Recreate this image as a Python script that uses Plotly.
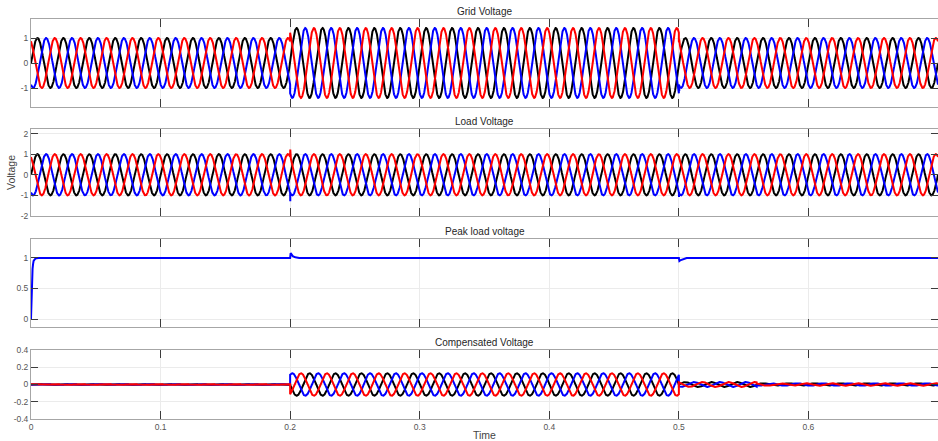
import numpy as np
import plotly.graph_objects as go

# ---------------- data ----------------
FREQ_HZ = 50.0
T_END = 0.7
DT = 0.0001

# three phases: colour and phase angle (degrees)
phase_colors = ["#000000", "#0000FF", "#FF0000"]
phase_angles = [0, -120, 120]

# Grid voltage: sag/swell segments (segment edges in s, peak amplitude per segment)
grid_edges = [0.0, 0.2, 0.5, 0.7]
grid_amps = [1.0, 1.4, 1.0]

# Load voltage: held at 1 pu by the compensator
load_edges = [0.0, 0.2, 0.5, 0.7]
load_amps = [1.0, 1.0, 1.0]
# short transients on the load voltage (time, value per phase: black, blue, red)
load_spike_t = [0.2001, 0.5001]
load_spike_v = [[0.05, -1.28, 1.22], [0.0, -1.08, 0.92]]

# Grid voltage glitch at 0.5 s
grid_spike_t = [0.5003]
grid_spike_v = [[0.05, -1.12, 0.95]]

# Compensated (injected) voltage
comp_edges = [0.0, 0.2, 0.5, 0.56, 0.7]
comp_amps = [0.004, -0.13, 0.028, 0.014]

# Peak load voltage
peak_t = [0.0, 0.0004, 0.0008, 0.0012, 0.0016, 0.002, 0.003, 0.004, 0.006,
          0.2, 0.2004, 0.201, 0.202, 0.204, 0.207,
          0.5, 0.5004, 0.501, 0.503, 0.506, 0.7]
peak_v = [0.0, 0.45, 0.68, 0.82, 0.9, 0.95, 0.98, 0.995, 1.0,
          1.0, 1.08, 1.06, 1.03, 1.01, 1.0,
          1.0, 0.95, 0.96, 0.98, 1.0, 1.0]

titles = ["Grid Voltage", "Load Voltage", "Peak load voltage", "Compensated Voltage"]
x_ticks = [0, 0.1, 0.2, 0.3, 0.4, 0.5, 0.6, 0.7]
x_ticklabels = ["0", "0.1", "0.2", "0.3", "0.4", "0.5", "0.6", "0.7"]
y_ticks = [[-1, 0, 1], [-2, -1, 0, 1, 2], [0, 0.5, 1], [-0.4, -0.2, 0, 0.2, 0.4]]
y_ticklabels = [["-1", "0", "1"], ["-2", "-1", "0", "1", "2"], ["0", "0.5", "1"],
                ["-0.4", "-0.2", "0", "0.2", "0.4"]]
y_ranges = [[-1.76, 1.76], [-2.0, 2.22], [-0.13, 1.31], [-0.4, 0.4]]


def segmented_wave(edges, amps, angle_deg, spikes_t=None, spikes_v=None, idx=0):
    ts, vs = [], []
    for a, b, amp in zip(edges[:-1], edges[1:], amps):
        t = np.arange(a, b + DT / 2, DT)
        v = amp * np.sin(2 * np.pi * FREQ_HZ * t + np.deg2rad(angle_deg))
        ts.append(t)
        vs.append(v)
    t = np.concatenate(ts)
    v = np.concatenate(vs)
    if spikes_t:
        for st, sv in zip(spikes_t, spikes_v):
            k = np.searchsorted(t, st)
            t = np.insert(t, k, st)
            v = np.insert(v, k, sv[idx])
    return t, v


fig = go.Figure()

# panel 1: grid voltage
for i, (c, ang) in enumerate(zip(phase_colors, phase_angles)):
    t, v = segmented_wave(grid_edges, grid_amps, ang, grid_spike_t, grid_spike_v, i)
    fig.add_trace(go.Scatter(x=t, y=v, mode="lines", line=dict(color=c, width=2),
                             xaxis="x", yaxis="y", showlegend=False))
# panel 2: load voltage
for i, (c, ang) in enumerate(zip(phase_colors, phase_angles)):
    t, v = segmented_wave(load_edges, load_amps, ang, load_spike_t, load_spike_v, i)
    fig.add_trace(go.Scatter(x=t, y=v, mode="lines", line=dict(color=c, width=2),
                             xaxis="x2", yaxis="y2", showlegend=False))
# panel 3: peak load voltage
fig.add_trace(go.Scatter(x=peak_t, y=peak_v, mode="lines", line=dict(color="#0000FF", width=2),
                         xaxis="x3", yaxis="y3", showlegend=False))
# panel 4: compensated voltage
for i, (c, ang) in enumerate(zip(phase_colors, phase_angles)):
    t, v = segmented_wave(comp_edges, comp_amps, ang)
    fig.add_trace(go.Scatter(x=t, y=v, mode="lines", line=dict(color=c, width=2),
                             xaxis="x4", yaxis="y4", showlegend=False))

H = 441.0
pix = [(19, 107), (129, 216), (239, 327), (350, 419)]
domains = [[1 - b / H, 1 - a / H] for a, b in pix]

FONT = "Liberation Sans, Arial, sans-serif"
axis_common = dict(showline=True, linecolor="#a6a6a6", linewidth=1, mirror="ticks",
                   ticks="inside", tickcolor="#3c3c3c", showgrid=True, automargin=False,
                   gridcolor="#ebebeb", gridwidth=1, zeroline=False,
                   tickfont=dict(family=FONT, size=8.5, color="#555555"))

layout = dict(width=938, height=441, margin=dict(l=31, r=0, t=0, b=0),
              paper_bgcolor="white", plot_bgcolor="white",
              font=dict(family=FONT, color="#262626"))
names = ["", "2", "3", "4"]
for k in range(4):
    xa = dict(axis_common, range=[0, T_END], tickvals=x_ticks, ticktext=x_ticklabels,
              ticklen=8, anchor="y" + names[k], showticklabels=(k == 3))
    if k > 0:
        xa["matches"] = "x"
    ya = dict(axis_common, range=y_ranges[k], tickvals=y_ticks[k], ticktext=y_ticklabels[k],
              ticklen=7, domain=domains[k], anchor="x" + names[k])
    if k == 1:
        ya["title"] = dict(text="Voltage", font=dict(family=FONT, size=10.5, color="#444444"),
                           standoff=3)
    layout["xaxis" + names[k]] = xa
    layout["yaxis" + names[k]] = ya

annotations = []
for k, title in enumerate(titles):
    annotations.append(dict(text=title, x=0.5, xref="paper", y=domains[k][1], yref="paper",
                            yanchor="bottom", xanchor="center", showarrow=False, yshift=0,
                            font=dict(family=FONT, size=10, color="#262626")))
annotations.append(dict(text="Time", x=0.5, xref="paper", y=1 - 435 / H, yref="paper",
                        yanchor="middle", xanchor="center", showarrow=False,
                        font=dict(family=FONT, size=10.5, color="#444444")))
layout["annotations"] = annotations

fig.update_layout(**layout)
fig.write_html("out.html", config={"displayModeBar": False},
               post_script="document.body.style.margin='0px';document.body.style.overflow='hidden';")
